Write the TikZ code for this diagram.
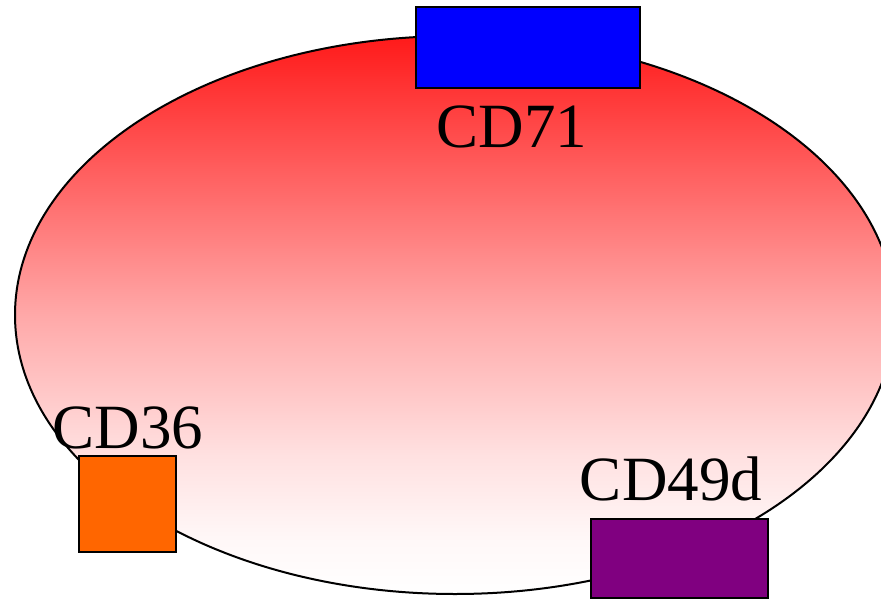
\documentclass[tikz,border=0pt]{standalone}
\usepackage{fontspec}
\setmainfont{Liberation Serif}
\usetikzlibrary{shapes.geometric}
\definecolor{cdorange}{HTML}{FF6600}
\definecolor{cdpurple}{HTML}{800080}
\definecolor{cdblue}{HTML}{0000FF}
\pgfdeclareverticalshading{cellgrad}{100bp}{color(0bp)=(white); color(25bp)=(white); color(30bp)=(red!3); color(37.5bp)=(red!12); color(50bp)=(red!34); color(62.5bp)=(red!62); color(75bp)=(red!90); color(100bp)=(red!90)}
\tikzset{
  cellbody/.style={ellipse, draw=black, line width=2pt, inner sep=0pt, shade, shading=cellgrad, minimum width=880pt, minimum height=558pt},
  marker/.style={rectangle, draw=black, line width=1.8pt, inner sep=0pt},
  cdlabel/.style={anchor=base, inner sep=0pt, font=\fontsize{63}{70}\selectfont}
}
\begin{document}
\begin{tikzpicture}[x=1pt,y=-1pt]
\useasboundingbox (0,0) rectangle (881,600);
\clip (0,0) rectangle (881,600);
\node[cellbody] (cell) at (455,315) {};
\node[marker, fill=cdblue, minimum width=224pt, minimum height=81pt] (cd71box) at (528,47.5) {};
\node[marker, fill=cdorange, minimum width=97pt, minimum height=96pt] (cd36box) at (127.5,504) {};
\node[marker, fill=cdpurple, minimum width=177pt, minimum height=79pt] (cd49dbox) at (679.5,558.5) {};
\node[cdlabel] (cd71) at (512,147) {CD71};
\node[cdlabel] (cd36) at (128,448) {CD36};
\node[cdlabel] (cd49d) at (671,500) {CD49d};
\end{tikzpicture}
\end{document}
